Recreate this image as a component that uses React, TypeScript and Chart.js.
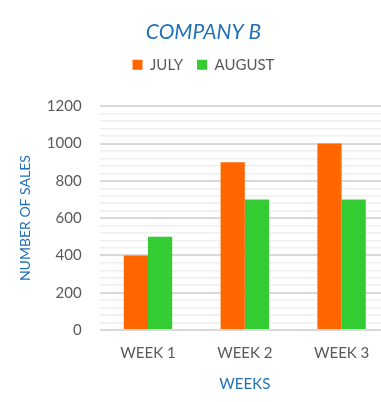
import React, { useEffect, useRef } from "react";
import { Chart, registerables } from "chart.js";
Chart.register(...registerables);

const categories = ["WEEK 1", "WEEK 2", "WEEK 3"];
const july = [400, 900, 1000];
const august = [500, 700, 700];
const seriesNames = ["JULY", "AUGUST"];
const titleText = "COMPANY B";
const yTitle = "NUMBER OF SALES";
const xTitle = "WEEKS";

const FONT = "Lato, 'Open Sans', sans-serif";
const GREY = "#595959";
const BLUE = "#1F70B8";

const legendMargin = {
  id: "legendMargin",
  beforeInit(chart: any) {
    const orig = chart.legend.fit;
    chart.legend.fit = function () {
      orig.bind(chart.legend)();
      this.height += 24;
    };
  },
};

export default function App() {
  const ref = useRef<HTMLCanvasElement | null>(null);
  useEffect(() => {
    if (!ref.current) return;
    const chart = new Chart(ref.current, {
      type: "bar",
      data: {
        labels: categories,
        datasets: [
          { label: seriesNames[0], data: july, backgroundColor: "#FF6600", categoryPercentage: 0.5, barPercentage: 1 },
          { label: seriesNames[1], data: august, backgroundColor: "#33CC33", categoryPercentage: 0.5, barPercentage: 1 },
        ],
      },
      plugins: [legendMargin],
      options: {
        responsive: false,
        animation: false,
        layout: { padding: { top: 20, left: 17, right: 0, bottom: 9 } },
        plugins: {
          title: {
            display: true,
            text: titleText,
            color: BLUE,
            font: { family: FONT, size: 21, style: "italic", weight: "normal" },
            padding: { top: 0, bottom: -2 },
          },
          legend: {
            display: true,
            labels: {
              color: GREY,
              font: { family: FONT, size: 15 },
              boxWidth: 10,
              boxHeight: 10,
              padding: 14,
            },
          },
          tooltip: { enabled: false },
        },
        scales: {
          x: {
            grid: { display: false },
            border: { display: false },
            ticks: { color: GREY, font: { family: FONT, size: 15 }, padding: 6 },
            title: { display: true, text: xTitle, color: BLUE, font: { family: FONT, size: 15 }, padding: { top: 7, bottom: 0 } },
          },
          y: {
            min: 0,
            max: 1200,
            border: { display: false },
            grid: {
              drawTicks: false,
              color: (ctx: any) => (ctx.tick && ctx.tick.value % 200 === 0 ? "#d9d9d9" : "#efefef"),
              lineWidth: (ctx: any) => (ctx.tick && ctx.tick.value % 200 === 0 ? 2 : 1.5),
            },
            ticks: {
              stepSize: 40,
              autoSkip: false,
              color: GREY,
              font: { family: FONT, size: 15 },
              padding: 18,
              callback: (v: any) => (Number(v) % 200 === 0 ? String(v) : ""),
            },
            title: { display: true, text: yTitle, color: BLUE, font: { family: FONT, size: 14 }, padding: { top: 0, bottom: -5 } },
          },
        },
      },
    });
    return () => chart.destroy();
  }, []);
  return (
    <div style={{ position: "fixed", left: 0, top: 0, width: 381, height: 402, overflow: "hidden", background: "#fff" }}>
      <canvas ref={ref} width={390} height={402} style={{ width: 390, height: 402 }} />
    </div>
  );
}
